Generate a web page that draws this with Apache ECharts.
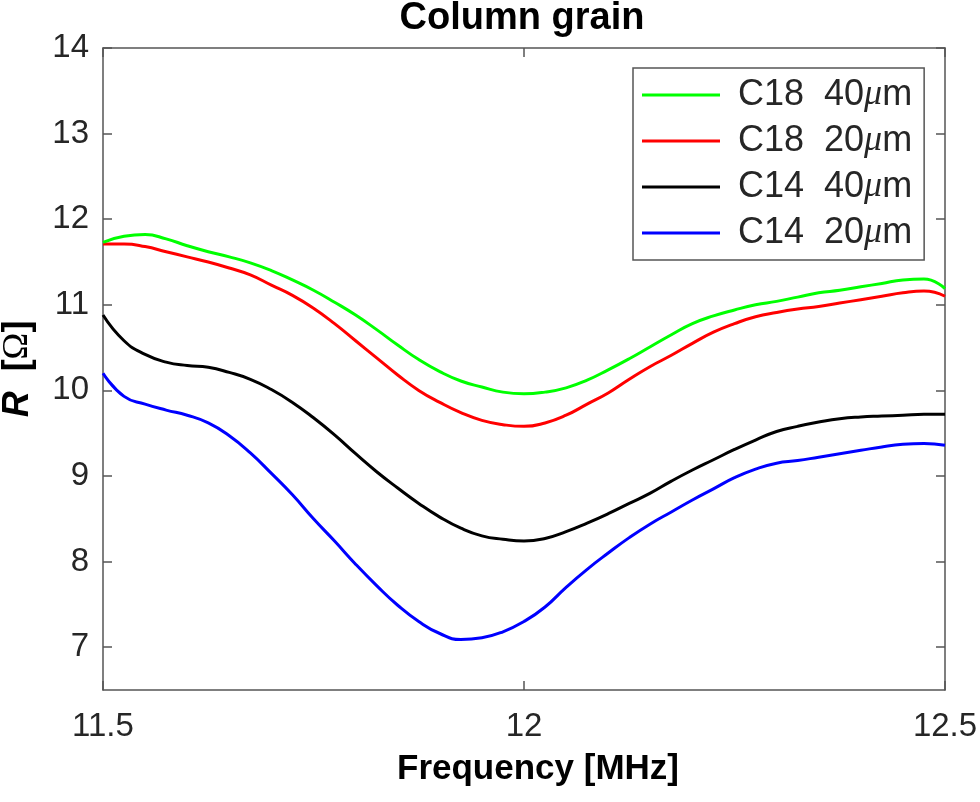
<!DOCTYPE html>
<html>
<head>
<meta charset="utf-8">
<script src="https://cdn.jsdelivr.net/npm/echarts@6/dist/echarts.min.js"></script>
<style>html,body{margin:0;padding:0;background:#fff;}#c{width:980px;height:802px;}</style>
</head>
<body>
<div id="c"></div>
<script>
const titleText = 'Column grain';
const xName = 'Frequency [MHz]';
const seriesNames = ['C18  40', 'C18  20', 'C14  40', 'C14  20'];
const seriesColors = ['#00ff00', '#ff0000', '#000000', '#0000ff'];
const yTicks = [7, 8, 9, 10, 11, 12, 13, 14];

const freq = [11.5, 11.525, 11.55, 11.575, 11.6, 11.625, 11.65, 11.675, 11.7, 11.725,
  11.75, 11.775, 11.8, 11.825, 11.85, 11.875, 11.9, 11.925, 11.95, 11.975,
  12.0, 12.025, 12.05, 12.075, 12.1, 12.125, 12.15, 12.175, 12.2, 12.225,
  12.25, 12.275, 12.3, 12.325, 12.35, 12.375, 12.4, 12.425, 12.45, 12.475, 12.5];
const c18_40 = [11.73, 11.80, 11.82, 11.77, 11.69, 11.62, 11.56, 11.49, 11.40, 11.29,
  11.17, 11.03, 10.88, 10.71, 10.53, 10.36, 10.22, 10.11, 10.04, 9.98,
  9.96, 9.98, 10.03, 10.12, 10.24, 10.37, 10.51, 10.65, 10.78, 10.87,
  10.94, 11.00, 11.04, 11.09, 11.14, 11.17, 11.21, 11.25, 11.29, 11.30, 11.19];
const c18_20 = [11.71, 11.71, 11.68, 11.62, 11.56, 11.50, 11.43, 11.35, 11.23, 11.11,
  10.96, 10.78, 10.58, 10.38, 10.18, 10.00, 9.86, 9.74, 9.65, 9.60,
  9.58, 9.62, 9.71, 9.84, 9.97, 10.13, 10.28, 10.41, 10.55, 10.68,
  10.78, 10.86, 10.91, 10.95, 10.98, 11.02, 11.06, 11.10, 11.14, 11.16, 11.10];
const c14_40 = [10.88, 10.58, 10.42, 10.33, 10.29, 10.27, 10.21, 10.13, 10.01, 9.86,
  9.68, 9.48, 9.26, 9.05, 8.86, 8.68, 8.52, 8.39, 8.30, 8.26,
  8.24, 8.27, 8.35, 8.45, 8.56, 8.68, 8.80, 8.94, 9.07, 9.19,
  9.31, 9.42, 9.52, 9.58, 9.63, 9.67, 9.69, 9.70, 9.71, 9.72, 9.72];
const c14_20 = [10.20, 9.93, 9.84, 9.77, 9.71, 9.62, 9.47, 9.27, 9.03, 8.78,
  8.50, 8.24, 7.97, 7.72, 7.49, 7.30, 7.16, 7.09, 7.11, 7.18,
  7.30, 7.47, 7.70, 7.91, 8.10, 8.28, 8.44, 8.58, 8.72, 8.85,
  8.98, 9.08, 9.15, 9.18, 9.22, 9.26, 9.30, 9.34, 9.37, 9.38, 9.36];
const allValues = [c18_40, c18_20, c14_40, c14_20];

const FONT = '"Liberation Sans", Arial, sans-serif';
const axisColor = '#555555';
const textColor = '#262626';

const chart = echarts.init(document.getElementById('c'), null, {renderer: 'canvas'});

const series = allValues.map((vals, k) => ({
  name: seriesNames[k],
  type: 'line',
  xAxisIndex: 0,
  yAxisIndex: 0,
  data: freq.map((f, i) => [f, vals[i]]),
  smooth: 0.5,
  symbol: 'none',
  lineStyle: {color: seriesColors[k], width: 3},
  itemStyle: {color: seriesColors[k]},
  z: 10 - k
}));

const baseY = {
  type: 'value', min: 6.5, max: 14,
  axisLine: {show: true, lineStyle: {color: axisColor, width: 1.5}},
  axisTick: {show: true, inside: true, length: 9, customValues: yTicks, lineStyle: {color: axisColor, width: 1.5}},
  splitLine: {show: false}
};
const baseX = {
  type: 'value', min: 11.5, max: 12.5, interval: 0.5,
  axisLine: {show: true, onZero: false, lineStyle: {color: axisColor, width: 1.5}},
  axisTick: {show: true, inside: true, length: 9, lineStyle: {color: axisColor, width: 1.5}},
  splitLine: {show: false}
};

chart.setOption({
  animation: false,
  backgroundColor: '#ffffff',
  title: {
    text: titleText, left: 522, top: 0, padding: 0, textAlign: 'center',
    textStyle: {fontFamily: FONT, fontSize: 38, fontWeight: 'bold', color: '#000'}
  },
  grid: {left: 103, right: 35, top: 48, bottom: 112, containLabel: false, outerBoundsMode: 'none'},
  legend: {
    left: 633, top: 68, orient: 'vertical',
    padding: [9, 12, 9, 9],
    itemGap: 10, itemWidth: 78, itemHeight: 3, icon: 'rect',
    borderColor: axisColor, borderWidth: 1.5, backgroundColor: '#fff',
    data: seriesNames,
    formatter: n => '{g|}{t|' + n + '}{m|μ}{t|m}',
    textStyle: {
      fontFamily: FONT, fontSize: 36, color: textColor, lineHeight: 36,
      rich: {
        g: {width: 13},
        t: {fontFamily: FONT, fontSize: 36, color: textColor, lineHeight: 36},
        m: {fontFamily: '"Liberation Serif", serif', fontStyle: 'italic', fontSize: 36, color: textColor, lineHeight: 36}
      }
    }
  },
  xAxis: [
    Object.assign({}, baseX, {
      position: 'bottom',
      name: xName, nameLocation: 'middle', nameGap: 62,
      nameTextStyle: {fontFamily: FONT, fontSize: 35, fontWeight: 'bold', color: '#000', padding: [0, 0, 0, 28]},
      axisLabel: {show: true, margin: 20, fontFamily: FONT, fontSize: 33, color: textColor}
    }),
    Object.assign({}, baseX, {position: 'top', axisLabel: {show: false}})
  ],
  yAxis: [
    Object.assign({}, baseY, {
      position: 'left',
      name: '{i|R}{b|  [}{o|Ω}{b|]}', nameLocation: 'middle', nameRotate: 90, nameGap: 67,
      nameTextStyle: {
        rich: {
          i: {fontFamily: FONT, fontSize: 36, fontWeight: 'bold', fontStyle: 'italic', color: '#000'},
          b: {fontFamily: FONT, fontSize: 36, fontWeight: 'bold', color: '#000'},
          o: {fontFamily: '"Liberation Serif", serif', fontSize: 36, color: '#000'}
        }
      },
      axisLabel: {show: true, margin: 14, customValues: yTicks, fontFamily: FONT, fontSize: 33, color: textColor}
    }),
    Object.assign({}, baseY, {position: 'right', axisLabel: {show: false}})
  ],
  series: series
});
</script>
</body>
</html>
